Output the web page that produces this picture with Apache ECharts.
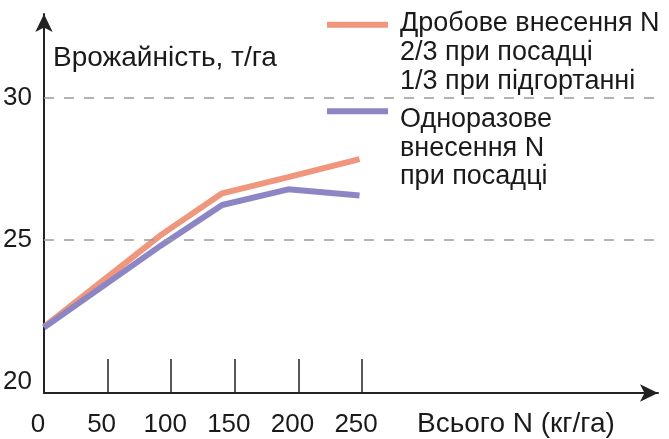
<!DOCTYPE html>
<html>
<head>
<meta charset="UTF-8">
<title>Врожайність</title>
<script src="https://cdn.jsdelivr.net/npm/echarts@6/dist/echarts.min.js"></script>
<style>
  html, body { margin: 0; padding: 0; background: #fff; }
  #main { width: 669px; height: 439px; }
</style>
</head>
<body>
<div id="main"></div>
<script>
// N doses (kg/ha) and yield (t/ha)
const nDoses = [0, 92, 140, 192, 248];
const splitYield = [21.95, 25.18, 26.64, 27.21, 27.84];
const singleYield = [21.92, 24.81, 26.23, 26.78, 26.56];
const xLabelValues = [0, 50, 100, 150, 200, 250];
const xTickValues = [50, 100, 150, 200, 250];
const yLabelValues = [20, 25, 30];
const gridValues = [25, 30];
const splitName = 'Дробове внесення N\n2/3 при посадці\n1/3 при підгортанні';
const singleName = 'Одноразове\nвнесення N\nпри посадці';

const font = '"Liberation Sans", Arial, Helvetica, sans-serif';
const axisColor = '#222';
const textColor = '#1a1a1a';

// legend text: two spacer lines above so the first real line sits at the icon
function legendText(name) {
  return '{e| }\n{e| }\n{t|' + name.split('\n').join('}\n{t|') + '}';
}
function legendStyle(spacer, lh) {
  return {
    padding: [0, 0, 0, 7],
    rich: {
      e: { fontSize: 1, lineHeight: spacer },
      t: { fontFamily: font, fontSize: 27, lineHeight: lh, color: textColor }
    }
  };
}

const chart = echarts.init(document.getElementById('main'), null, { renderer: 'canvas' });
chart.setOption({
  animation: false,
  grid: { left: 44, right: 11, top: 14, bottom: 46, containLabel: false, outerBoundsMode: 'none' },
  legend: [
    {
      data: [splitName], left: 327, top: -33, padding: 0,
      icon: 'rect', itemWidth: 61, itemHeight: 6, selectedMode: false,
      formatter: legendText, textStyle: legendStyle(27.5, 29)
    },
    {
      data: [singleName], left: 327, top: 49.5, padding: 0,
      icon: 'rect', itemWidth: 61, itemHeight: 6, selectedMode: false,
      formatter: legendText, textStyle: legendStyle(37, 28.5)
    }
  ],
  xAxis: {
    type: 'value', min: 0, max: 482.6,
    name: 'Всього N (кг/га)', nameLocation: 'middle', nameGap: 31, nameMoveOverlap: false,
    nameTextStyle: { fontFamily: font, fontSize: 28, color: textColor, align: 'left', verticalAlign: 'middle', padding: [0, 0, 0, 66] },
    axisLine: { lineStyle: { color: axisColor, width: 2 }, symbol: ['none', 'arrow'], symbolSize: [13, 18] },
    axisTick: { show: true, inside: true, length: 34, customValues: xTickValues, lineStyle: { color: axisColor, width: 1.5 } },
    axisLabel: { customValues: xLabelValues, fontFamily: font, fontSize: 26, color: textColor, margin: 17, lineHeight: 30, padding: [0, 12, 0, 0] },
    splitLine: { show: false }
  },
  yAxis: {
    type: 'value', min: 19.624, max: 32.94,
    name: 'Врожайність, т/га', nameLocation: 'end', nameGap: -44.5, nameMoveOverlap: false,
    nameTextStyle: { fontFamily: font, fontSize: 28, color: textColor, align: 'left', verticalAlign: 'middle', padding: [0, 0, 0, 9] },
    axisLine: { show: true, lineStyle: { color: axisColor, width: 2 }, symbol: ['none', 'arrow'], symbolSize: [13, 18] },
    axisTick: { show: false },
    axisLabel: { customValues: yLabelValues, fontFamily: font, fontSize: 26, color: textColor, margin: 12 },
    splitLine: { show: false }
  },
  series: [
    {
      name: splitName, type: 'line', symbol: 'none',
      data: nDoses.map((x, i) => [x, splitYield[i]]),
      lineStyle: { color: '#f0967c', width: 6 }, itemStyle: { color: '#f0967c' },
      markLine: {
        silent: true, symbol: 'none', label: { show: false },
        lineStyle: { color: '#9a9a9a', width: 1.5, type: [10, 10] },
        data: gridValues.map(v => ({ yAxis: v }))
      },
      z: 2
    },
    {
      name: singleName, type: 'line', symbol: 'none',
      data: nDoses.map((x, i) => [x, singleYield[i]]),
      lineStyle: { color: '#8c87c4', width: 6 }, itemStyle: { color: '#8c87c4' },
      z: 3
    }
  ]
});
</script>
</body>
</html>
